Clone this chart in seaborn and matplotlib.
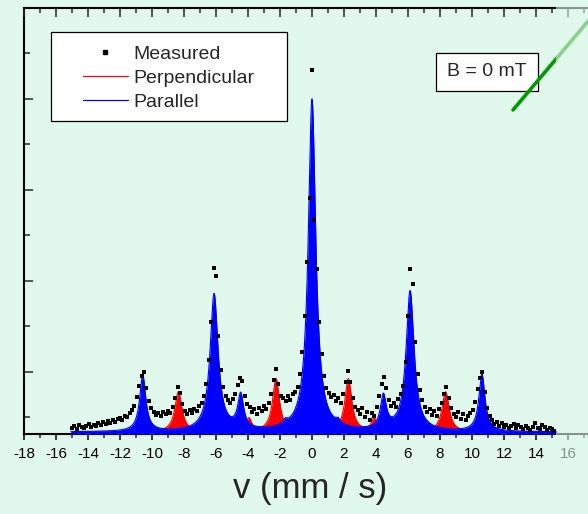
import numpy as np
import pandas as pd
import matplotlib.pyplot as plt
import seaborn as sns
from matplotlib.ticker import MultipleLocator, NullFormatter
from matplotlib.lines import Line2D
from matplotlib.patches import Rectangle

# measured spectrum, counts above the axis bottom, one value every 0.15 mm/s from -15
measured = [
    6, 8, 5, 9, 7, 6, 8, 10, 7, 9,
    8, 11, 9, 12, 10, 13, 11, 14, 12, 15,
    16, 14, 18, 17, 21, 24, 28, 37, 48, 58,
    62, 46, 33, 26, 22, 19, 21, 18, 22, 20,
    23, 21, 27, 36, 47, 41, 30, 23, 20, 24,
    21, 25, 23, 28, 31, 38, 50, 74, 112, 166,
    158, 98, 64, 47, 38, 34, 31, 35, 40, 49,
    56, 53, 38, 30, 27, 22, 25, 20, 26, 23,
    28, 25, 31, 40, 54, 65, 50, 38, 36, 33,
    38, 34, 40, 42, 47, 60, 82, 118, 172, 236,
    364, 214, 165, 112, 80, 58, 46, 41, 37, 39,
    33, 36, 31, 40, 52, 63, 52, 36, 27, 24,
    20, 26, 17, 22, 14, 21, 18, 27, 38, 50,
    57, 46, 34, 28, 31, 27, 35, 40, 48, 72,
    118, 165, 150, 92, 60, 44, 34, 27, 22, 25,
    19, 23, 18, 25, 31, 40, 47, 36, 26, 20,
    17, 22, 15, 20, 14, 18, 21, 24, 32, 45,
    56, 62, 42, 26, 18, 14, 10, 12, 8, 11,
    7, 9, 6, 8, 10, 6, 9, 7, 5, 8,
    6, 4, 7, 11, 6, 5, 9, 7, 4, 6,
    5, 3,
]
velocity = np.linspace(-15.0, 15.15, len(measured))

# fitted lines (Lorentzian): position mm/s, amplitude, half width
par_pos = [-10.58, -6.12, -4.46, -1.67, 0.0, 1.63, 4.46, 6.13, 10.62]
par_amp = [56, 137, 34, 4, 332, 4, 33, 140, 57]
par_hw = [0.23, 0.30, 0.22, 0.15, 0.28, 0.15, 0.22, 0.30, 0.23]
perp_pos = [-8.35, -3.94, -2.25, 2.27, 3.88, 8.35]
perp_amp = [40, 13, 53, 53, 13, 40]
perp_hw = [0.27, 0.20, 0.26, 0.26, 0.20, 0.27]
baseline = 2

bg = '#e1f9ec'

sns.set_style('ticks')
plt.rcParams['font.family'] = ['Liberation Sans', 'DejaVu Sans']
plt.rcParams['axes.unicode_minus'] = False

v = np.linspace(-15.06, 15.3, 4000)
par = baseline + sum(a / (1 + ((v - p) / w) ** 2) for p, a, w in zip(par_pos, par_amp, par_hw))
perp = baseline + sum(a / (1 + ((v - p) / w) ** 2) for p, a, w in zip(perp_pos, perp_amp, perp_hw))
fit = pd.DataFrame({'v': v, 'par': par, 'perp': perp})
meas = pd.DataFrame({'v': velocity, 'counts': measured})

fig = plt.figure(figsize=(5.88, 5.14), dpi=100, facecolor=bg)
# axes runs past the right edge of the picture, like the cropped original
ax = fig.add_axes([24 / 588, 80 / 514, 35.6 * 16 / 588, 426 / 514])
ax.set_facecolor(bg)

ax.fill_between(fit['v'], 0, fit['perp'], color='red', lw=0, zorder=2)
sns.lineplot(data=fit, x='v', y='perp', color='red', lw=0.8, estimator=None, ax=ax, zorder=2)
ax.fill_between(fit['v'], 0, fit['par'], color='blue', lw=0, zorder=3)
sns.lineplot(data=fit, x='v', y='par', color='blue', lw=0.8, estimator=None, ax=ax, zorder=3)
sns.scatterplot(data=meas, x='v', y='counts', marker='s', s=10, color='black',
                linewidth=0, ax=ax, zorder=4)

ax.set_xlim(-18, 17.6)
ax.set_ylim(0, 426)
ax.xaxis.set_major_locator(MultipleLocator(2))
ax.xaxis.set_minor_locator(MultipleLocator(1))
ax.yaxis.set_major_locator(MultipleLocator(91, offset=62))
ax.yaxis.set_minor_locator(MultipleLocator(91, offset=17))
ax.yaxis.set_major_formatter(NullFormatter())
ax.tick_params(axis='x', which='major', direction='out', length=4.5, width=1.1, labelsize=11, pad=5, colors='black')
ax.tick_params(axis='x', which='minor', direction='out', length=3.2, width=1.1)
ax.tick_params(axis='y', which='major', direction='in', length=6.5, width=1.1, left=True, right=False)
ax.tick_params(axis='y', which='minor', direction='in', length=4.3, width=1.1, left=True, right=False)
for side in ['left', 'bottom', 'top']:
    ax.spines[side].set_visible(True)
    ax.spines[side].set_linewidth(1.5)
    ax.spines[side].set_color('black')
ax.spines['right'].set_visible(False)

top = ax.twiny()
top.set_xlim(-18, 17.6)
top.xaxis.set_major_locator(MultipleLocator(2))
top.xaxis.set_minor_locator(MultipleLocator(1))
top.xaxis.set_major_formatter(NullFormatter())
top.tick_params(axis='x', which='major', direction='in', length=6.5, width=1.1, top=True, bottom=False)
top.tick_params(axis='x', which='minor', direction='in', length=3.6, width=1.1, top=True, bottom=False)
for side in top.spines:
    top.spines[side].set_visible(False)

ax.set_xlabel('v (mm / s)', fontsize=25)
ax.set_ylabel('')
ax.xaxis.set_label_coords((310 - 24) / (35.6 * 16), -0.127)
ax.xaxis.label.set_va('center')

# legend with a wide white frame
axw = 35.6 * 16
ax.add_patch(Rectangle(((51 - 24) / axw, (434 - 121) / 426), 236 / axw, 89 / 426,
                       transform=ax.transAxes, facecolor='white', edgecolor='black',
                       lw=0.9, zorder=5))
handles = [
    Line2D([], [], ls='none', marker='s', ms=2.8, color='black'),
    Line2D([], [], color='red', lw=0.9),
    Line2D([], [], color='blue', lw=0.9),
]
leg = ax.legend(handles, ['Measured', 'Perpendicular', 'Parallel'], loc='upper left',
                bbox_to_anchor=((83 - 24) / axw, (434 - 45) / 426), borderaxespad=0,
                borderpad=0, frameon=False, fontsize=14, handlelength=2.3,
                handletextpad=0.3, labelspacing=0.33)
leg.set_zorder(6)

ax.text((487 - 24) / axw, (434 - 72) / 426, 'B = 0 mT', transform=ax.transAxes,
        ha='center', va='center', fontsize=14, zorder=6,
        bbox=dict(boxstyle='square,pad=0.55', fc='white', ec='black', lw=0.9))

fig.add_artist(Line2D([513 / 588, 600 / 588], [1 - 110 / 514, 1 - 7 / 514],
                      transform=fig.transFigure, color='#009900', lw=2.6, zorder=5))
fig.add_artist(Rectangle((556 / 588, 0), 1, 1, transform=fig.transFigure,
                         facecolor=bg, edgecolor='none', alpha=0.6, zorder=10))

fig.savefig('out.png', dpi=100, facecolor=bg)
